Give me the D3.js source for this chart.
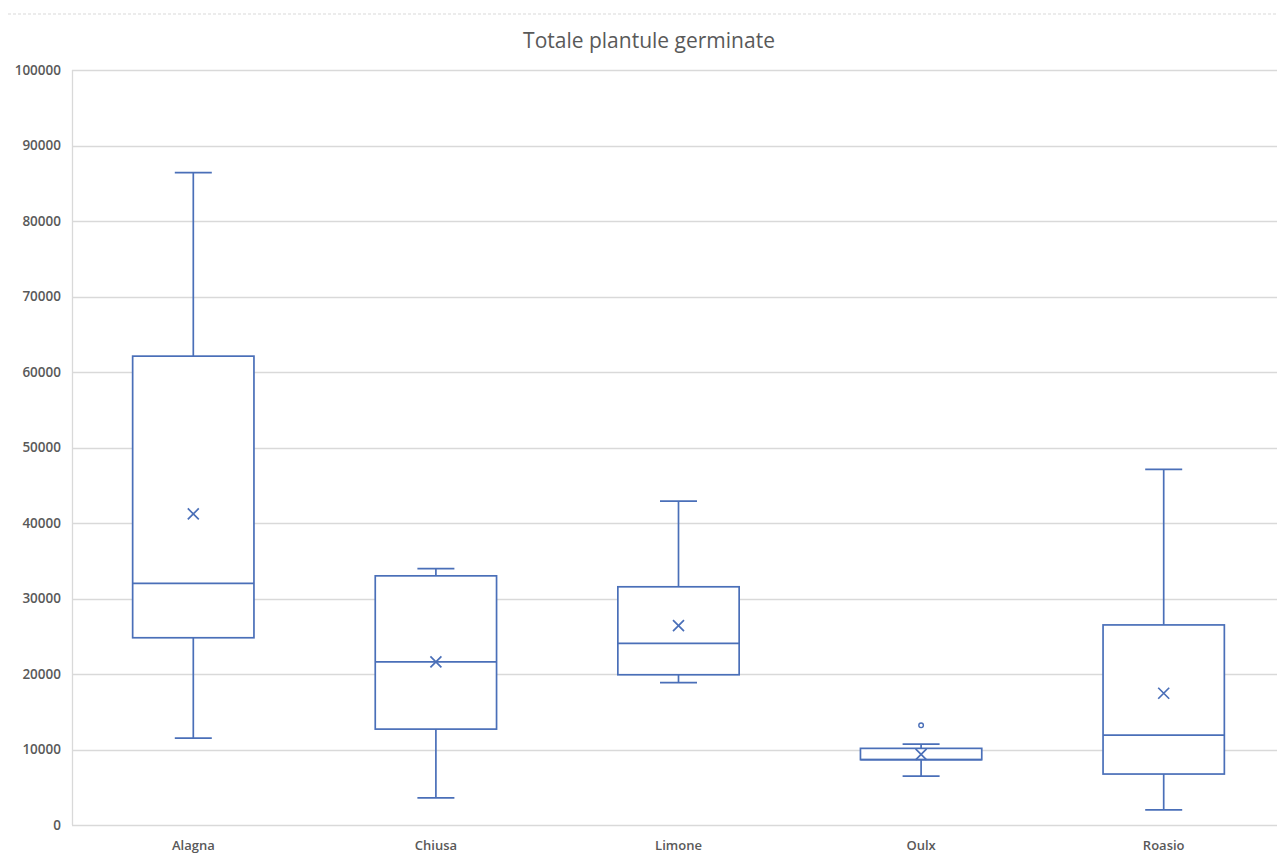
<!DOCTYPE html>
<html>
<head>
<meta charset="utf-8">
<script src="https://cdn.jsdelivr.net/npm/d3@7"></script>
<style>
  html, body { margin: 0; padding: 0; background: #fff; }
  svg { display: block; }
</style>
</head>
<body>
<svg id="chart" width="1277" height="859"></svg>
<script>
// Germinated seedlings per site: five-number summaries, mean and outliers
const sites = ["Alagna", "Chiusa", "Limone", "Oulx", "Roasio"];
const whiskerLow = [11500, 3600, 18850, 6480, 2000];
const quartile1 = [24800, 12700, 19900, 8650, 6750];
const medians = [32000, 21600, 24050, 8650, 11900];
const quartile3 = [62100, 33000, 31550, 10150, 26500];
const whiskerHigh = [86400, 33950, 42900, 10700, 47100];
const means = [41200, 21600, 26400, 9350, 17450];
const outliers = [[], [], [], [13200], []];
const yTicks = [0, 10000, 20000, 30000, 40000, 50000, 60000, 70000, 80000, 90000, 100000];

const svg = d3.select("#chart");
const W = 1277, H = 859;
const plot = { left: 72, top: 70, right: 1285, bottom: 825 };
const stroke = "#4a6fb8";
const textColor = "#595959";
const font = "'Open Sans', 'Liberation Sans', sans-serif";

// dashed frame line at the top of the chart area
svg.append("line")
  .attr("x1", 8).attr("x2", W).attr("y1", 14).attr("y2", 14)
  .attr("stroke", "#d9d9d9").attr("stroke-width", 1)
  .attr("stroke-dasharray", "3,2");

svg.append("text")
  .attr("x", 649).attr("y", 48)
  .attr("text-anchor", "middle")
  .attr("font-family", font)
  .attr("font-size", 21)
  .attr("fill", textColor)
  .text("Totale plantule germinate");

const y = d3.scaleLinear().domain([0, 100000]).range([plot.bottom, plot.top]);
const x = d3.scaleBand().domain(sites).range([plot.left, plot.right]).paddingInner(0).paddingOuter(0);

// gridlines
svg.append("g")
  .selectAll("line")
  .data(yTicks)
  .join("line")
  .attr("x1", plot.left).attr("x2", plot.right)
  .attr("y1", d => Math.round(y(d)) + 0.5).attr("y2", d => Math.round(y(d)) + 0.5)
  .attr("stroke", "#d9d9d9").attr("stroke-width", 1.3);

svg.append("line")
  .attr("x1", plot.left + 0.5).attr("x2", plot.left + 0.5)
  .attr("y1", plot.top).attr("y2", plot.bottom)
  .attr("stroke", "#d9d9d9").attr("stroke-width", 1.3);

// y axis labels
const yAxis = d3.axisLeft(y).tickValues(yTicks).tickSize(0).tickPadding(11).tickFormat(d3.format("d"));
const gy = svg.append("g").attr("transform", `translate(${plot.left},0)`).call(yAxis);
gy.select(".domain").remove();
gy.selectAll("text")
  .attr("font-family", font)
  .attr("font-size", 13.5).attr("font-weight", 600)
  .attr("fill", textColor);

// x axis labels
const xAxis = d3.axisBottom(x).tickSize(0).tickPadding(16);
const gx = svg.append("g").attr("transform", `translate(0,${plot.bottom})`).call(xAxis);
gx.select(".domain").remove();
gx.selectAll("text")
  .attr("font-family", font)
  .attr("font-size", 13).attr("font-weight", 600)
  .attr("fill", textColor);

// boxes
const boxW = x.bandwidth() * 0.5;
const capW = 37;
const data = sites.map((s, i) => ({
  site: s, lo: whiskerLow[i], q1: quartile1[i], med: medians[i],
  q3: quartile3[i], hi: whiskerHigh[i], mean: means[i], out: outliers[i]
}));

const g = svg.append("g")
  .selectAll("g")
  .data(data)
  .join("g")
  .attr("transform", d => `translate(${x(d.site) + x.bandwidth() / 2},0)`)
  .attr("fill", "none").attr("stroke", stroke).attr("stroke-width", 1.7);

// whiskers
g.append("line").attr("x1", 0).attr("x2", 0).attr("y1", d => y(d.q3)).attr("y2", d => y(d.hi));
g.append("line").attr("x1", 0).attr("x2", 0).attr("y1", d => y(d.q1)).attr("y2", d => y(d.lo));
g.append("line").attr("x1", -capW / 2).attr("x2", capW / 2).attr("y1", d => y(d.hi)).attr("y2", d => y(d.hi));
g.append("line").attr("x1", -capW / 2).attr("x2", capW / 2).attr("y1", d => y(d.lo)).attr("y2", d => y(d.lo));

// box body
g.append("rect")
  .attr("x", -boxW / 2).attr("width", boxW)
  .attr("y", d => y(d.q3)).attr("height", d => y(d.q1) - y(d.q3))
  .attr("fill", "#fff");

// median line
g.append("line").attr("x1", -boxW / 2).attr("x2", boxW / 2)
  .attr("y1", d => y(d.med)).attr("y2", d => y(d.med));

// mean marker (x)
const m = 5.5;
g.append("path")
  .attr("d", d => {
    const cy = y(d.mean);
    return `M${-m},${cy - m}L${m},${cy + m}M${-m},${cy + m}L${m},${cy - m}`;
  })
  .attr("stroke-width", 1.7);

// outliers
g.selectAll("circle")
  .data(d => d.out)
  .join("circle")
  .attr("cx", 0).attr("cy", d => y(d)).attr("r", 2.3)
  .attr("stroke-width", 1.4);
</script>
</body>
</html>
